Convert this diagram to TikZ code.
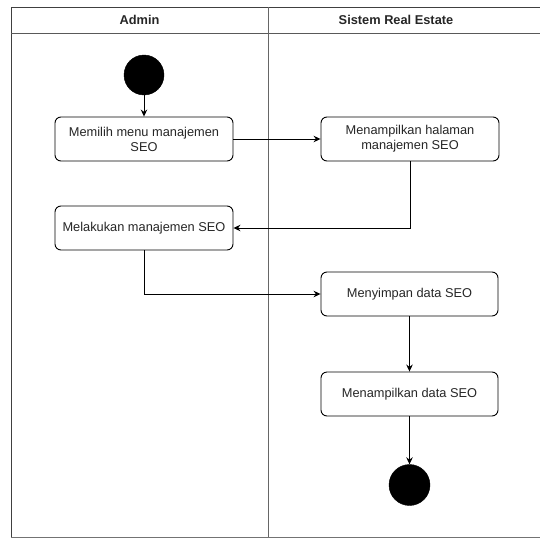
\documentclass[tikz,border=0pt]{standalone}
\usepackage{fontspec}
\setmainfont{Liberation Sans}
\usetikzlibrary{arrows.meta}
\begin{document}
\begin{tikzpicture}[x=1pt,y=-1pt,
  lane/.style={draw=black!75, line width=1pt},
  act/.style={draw=black, line width=0.9pt, rounded corners=6pt, fill=white,
    minimum width=178pt, minimum height=44pt, align=center, inner sep=2pt,
    font=\fontsize{12.8}{15}\selectfont, text=black!85},
  dot/.style={circle, fill=black, draw=black, minimum size=40pt, inner sep=0pt},
  flow/.style={draw=black, line width=0.9pt, -{Stealth[length=7pt,width=6.5pt]}},
  head/.style={font=\fontsize{12.8}{15}\selectfont\bfseries, text=black!85}]
  \useasboundingbox (0,0) rectangle (540,538);
  % swimlane frame
  \draw[lane] (11,537) -- (11,7) -- (560,7);
  \draw[lane, draw=black!55] (11,537) -- (560,537);
  \draw[lane, draw=black!65] (11,33) -- (560,33);
  \draw[lane, draw=black!60] (268,7) -- (268,537);
  \node[head] (hadmin) at (139.5,20) {Admin};
  \node[head] (hsys) at (396,20) {Sistem Real Estate};
  % activities
  \node[dot] (start) at (144,75) {};
  \node[act] (b1) at (144,139) {Memilih menu manajemen\\SEO};
  \node[act] (b2) at (410,139) {Menampilkan halaman\\manajemen SEO};
  \node[act] (b3) at (144,228) {Melakukan manajemen SEO};
  \node[act, minimum width=177pt] (b4) at (409.5,294) {Menyimpan data SEO};
  \node[act, minimum width=177pt] (b5) at (409.5,394) {Menampilkan data SEO};
  \node[dot, minimum size=41pt] (end) at (409.5,485) {};
  % flows
  \draw[flow] (start) -- (b1);
  \draw[flow] (b1.east) -- (b2.west);
  \draw[flow] (b2.south) |- (b3.east);
  \draw[flow] (b3.south) |- (b4.west);
  \draw[flow] (b4) -- (b5);
  \draw[flow] (b5) -- (end);
\end{tikzpicture}
\end{document}
